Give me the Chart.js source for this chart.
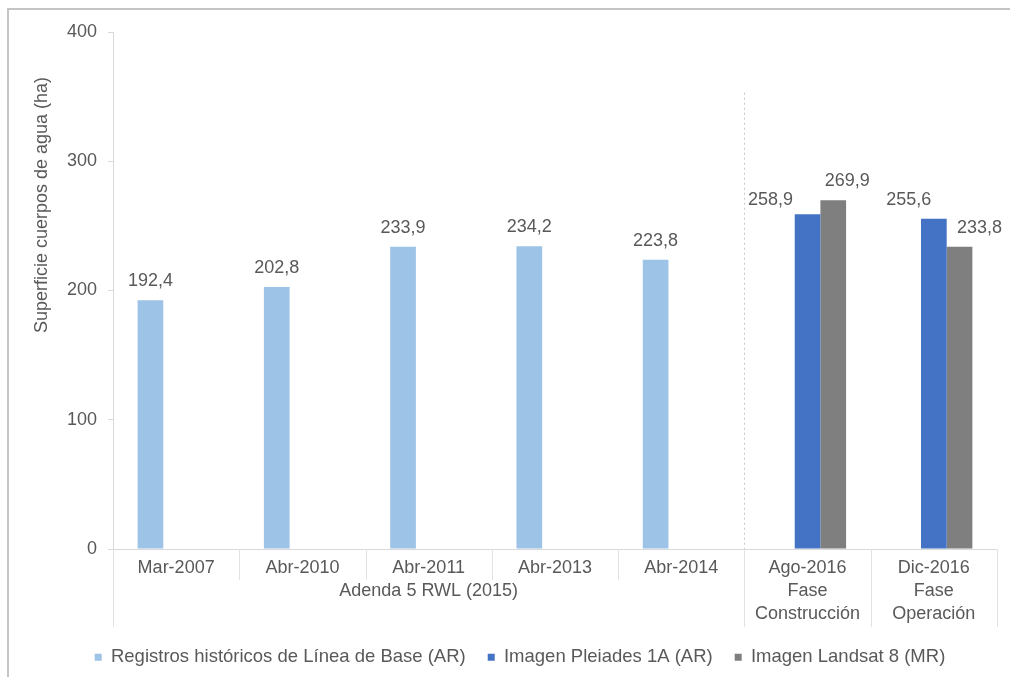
<!DOCTYPE html>
<html>
<head>
<meta charset="utf-8">
<script src="https://cdn.jsdelivr.net/npm/chart.js@4/dist/chart.umd.min.js"></script>
<style>
  html, body { margin: 0; padding: 0; background: #fff; overflow: hidden; }
  #wrap { position: relative; width: 1010px; height: 700px; }
</style>
</head>
<body>
<div id="wrap"><canvas id="chart"></canvas></div>
<script>
const dates = ["Mar-2007", "Abr-2010", "Abr-2011", "Abr-2013", "Abr-2014", "Ago-2016", "Dic-2016"];
const periods = [[], [], ["Adenda 5 RWL (2015)"], [], [], ["Fase", "Construcción"], ["Fase", "Operación"]];
const lineaBase = [192.4, 202.8, 233.9, 234.2, 223.8, null, null];
const pleiades = [null, null, null, null, null, 258.9, 255.6];
const landsat = [null, null, null, null, null, 269.9, 233.8];
const yTicks = [0, 100, 200, 300, 400];

const FONT = "'Liberation Sans', Arial, sans-serif";
const TEXT = "#595959";
const LINE = "#d9d9d9";

// nudges for the crowded value labels of the last two groups
const labelNudge = {
  "1-5": { dx: -37, dy: 5 },
  "2-5": { dx: 14, dy: 0 },
  "1-6": { dx: -25, dy: 0 },
  "2-6": { dx: 20, dy: 0 },
};

const frame = {
  id: "frame",
  beforeDraw(chart) {
    const ctx = chart.ctx;
    ctx.save();
    ctx.strokeStyle = "#c4c4c4";
    ctx.lineWidth = 2;
    ctx.beginPath();
    ctx.moveTo(8, chart.height);
    ctx.lineTo(8, 9);
    ctx.lineTo(chart.width, 9);
    ctx.stroke();
    ctx.restore();
  },
};

const separators = {
  id: "separators",
  afterDraw(chart) {
    const { ctx, scales: { x, y }, chartArea } = chart;
    const half = (x.getPixelForValue(1) - x.getPixelForValue(0)) / 2;
    const longOnes = [0, 5, 6, 7];
    ctx.save();
    ctx.strokeStyle = "#e3e3e3";
    ctx.lineWidth = 1;
    for (let i = 0; i <= dates.length; i++) {
      const px = Math.round(x.getPixelForValue(i) - half) + 0.5;
      const len = longOnes.includes(i) ? 78 : 31;
      ctx.beginPath();
      ctx.moveTo(px, chartArea.bottom);
      ctx.lineTo(px, chartArea.bottom + len);
      ctx.stroke();
    }
    // dotted divider before the 2016 campaigns
    const dx = Math.round(x.getPixelForValue(5) - half) + 0.5;
    ctx.strokeStyle = "#c8c8c8";
    ctx.setLineDash([2, 3]);
    ctx.beginPath();
    ctx.moveTo(dx, y.getPixelForValue(353));
    ctx.lineTo(dx, chartArea.bottom);
    ctx.stroke();
    ctx.restore();

    // rotated axis title
    ctx.save();
    ctx.fillStyle = TEXT;
    ctx.font = "18px " + FONT;
    ctx.textAlign = "center";
    ctx.textBaseline = "middle";
    ctx.translate(chartArea.left - 71, chartArea.top + 173);
    ctx.rotate(-Math.PI / 2);
    ctx.fillText("Superficie cuerpos de agua (ha)", 0, 0);
    ctx.restore();
  },
};

const valueLabels = {
  id: "valueLabels",
  afterDatasetsDraw(chart) {
    const ctx = chart.ctx;
    ctx.save();
    ctx.fillStyle = TEXT;
    ctx.font = "18px " + FONT;
    ctx.textAlign = "center";
    ctx.textBaseline = "middle";
    chart.data.datasets.forEach((ds, di) => {
      chart.getDatasetMeta(di).data.forEach((bar, i) => {
        const v = ds.data[i];
        if (v == null) return;
        const n = labelNudge[di + "-" + i] || { dx: 0, dy: 0 };
        ctx.fillText(v.toFixed(1).replace(".", ","), bar.x + n.dx, bar.y - 19 + n.dy);
      });
    });
    ctx.restore();
  },
};

new Chart(document.getElementById("chart"), {
  type: "bar",
  data: {
    labels: dates.map((d, i) => [d, ...periods[i]]),
    datasets: [
      { label: "Registros históricos de Línea de Base (AR)", data: lineaBase, backgroundColor: "#9dc3e6" },
      { label: "Imagen Pleiades 1A (AR)", data: pleiades, backgroundColor: "#4472c4" },
      { label: "Imagen Landsat 8 (MR)", data: landsat, backgroundColor: "#7f7f7f" },
    ],
  },
  plugins: [frame, separators, valueLabels],
  options: {
    responsive: true,
    maintainAspectRatio: false,
    animation: false,
    categoryPercentage: 0.61,
    barPercentage: 1,
    layout: { padding: { left: 43, right: 13, top: 32, bottom: 23.5 } },
    plugins: {
      legend: {
        position: "bottom",
        labels: {
          color: TEXT,
          font: { family: FONT, size: 18.5 },
          boxWidth: 7,
          boxHeight: 7,
          padding: 22,
        },
      },
      tooltip: { enabled: false },
    },
    scales: {
      x: {
        grid: { display: false, drawTicks: false },
        border: { color: LINE },
        ticks: {
          color: TEXT,
          font: { family: FONT, size: 18, lineHeight: 1.3 },
          padding: 7,
          autoSkip: false,
          maxRotation: 0,
        },
        afterFit: (scale) => { scale.height = 77; },
      },
      y: {
        min: 0,
        max: 400,
        afterBuildTicks: (scale) => { scale.ticks = yTicks.map((v) => ({ value: v })); },
        grid: { drawOnChartArea: false, tickLength: 5, color: LINE },
        border: { color: LINE },
        ticks: { color: TEXT, font: { family: FONT, size: 18 }, padding: 11 },
        afterFit: (scale) => { scale.width = 70; },
      },
    },
  },
});
</script>
</body>
</html>
